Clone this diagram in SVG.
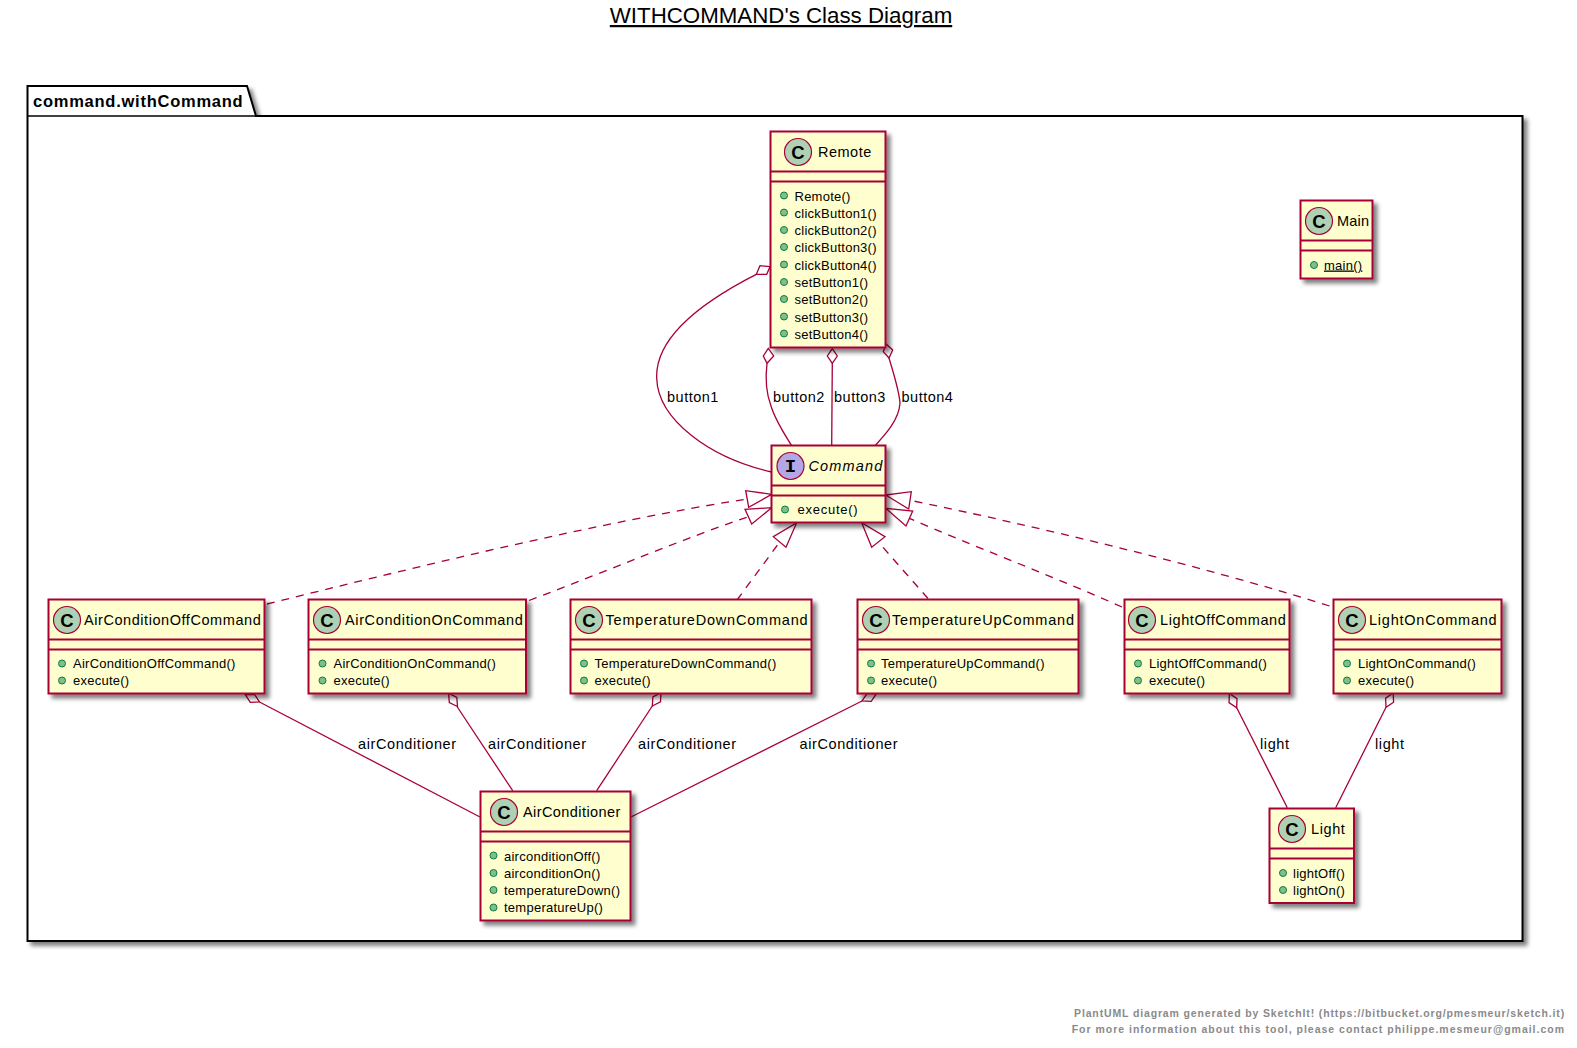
<svg xmlns="http://www.w3.org/2000/svg" width="1577" height="1048" viewBox="0 0 1577 1048">
<style>
text{font-family:"Liberation Sans",Arial,sans-serif;fill:#000}
.box{fill:#FEFECE;stroke:#A80036;stroke-width:2}
.div{stroke:#A80036;stroke-width:2;fill:none}
.sp{fill:#ADD1B2;stroke:#A80036;stroke-width:1.2}
.spi{fill:#B4A7E5;stroke:#A80036;stroke-width:1.2}
.g{font-size:18.500px;font-weight:bold}
.gi{font-size:19px;font-weight:bold;font-family:"Liberation Mono",monospace}
.n{font-size:14.500px;letter-spacing:.6px}
.m{font-size:13px;letter-spacing:.25px}
.dot{fill:#84BE84;stroke:#038048;stroke-width:1}
.e{fill:none;stroke:#A80036;stroke-width:1.3}
.d{stroke-dasharray:8,7}
.o{fill:#fff;stroke:#A80036;stroke-width:1.3}
.l{font-size:14.500px;letter-spacing:.6px}
.f{font-size:10.500px;font-weight:bold;fill:#8a8a8a}
</style>
<defs>
<filter id="s" x="-10%" y="-10%" width="125%" height="125%"><feGaussianBlur in="SourceAlpha" stdDeviation="2"/><feOffset dx="4" dy="4"/><feComponentTransfer><feFuncA type="linear" slope=".5"/></feComponentTransfer><feMerge><feMergeNode/><feMergeNode in="SourceGraphic"/></feMerge></filter>
</defs>
<text x="781" y="23" text-anchor="middle" font-size="22.300" text-decoration="underline">WITHCOMMAND's Class Diagram</text>
<g id="package">
<path d="M27.500 116V86H247L256 116H1522.500V941H27.500Z" fill="#fff" stroke="#000" stroke-width="2" filter="url(#s)"/>
<path d="M27.500 116H256" fill="none" stroke="#000" stroke-width="1.500"/>
<text x="33" y="107" font-size="16.500" font-weight="bold" letter-spacing=".75">command.withCommand</text>
</g>
<g id="connectors">
<path class="e" d="M756.300 274.300C700 303 655 338 656.700 378.300C658 420 710 458 771.500 472"/>
<path class="o" d="M770 266.700L760 265.700L756.300 274.300L766.700 274.300Z"/>
<path class="e" d="M767 363.300C765 380 766 392 770.700 405C775 420 785 435 791.700 445.700"/>
<path class="o" d="M768.300 348.300L763.300 356L767 363.300L773.700 356Z"/>
<path class="e" d="M832.300 363.300L831.700 445.700"/>
<path class="o" d="M832.300 348.700L827.300 356L832.300 363.300L837.300 356Z"/>
<path class="e" d="M889 358C894 375 899 390 900 403C899 420 885 435 875 445.700"/>
<path class="o" d="M886 344L883.300 351.700L889 358L892.700 350Z"/>
<path class="e d" d="M267 604C420 566 600 522 747 499"/>
<path class="o" d="M771.700 494.300L745.700 490.700L748.700 507.300Z"/>
<path class="e d" d="M529 600.500C610 570 680 540 748.300 516.700"/>
<path class="o" d="M771.700 507.700L745 509.300L751.700 524Z"/>
<path class="e d" d="M737 600L779.700 542"/>
<path class="o" d="M796.700 522.700L773.300 536.700L786 547.300Z"/>
<path class="e d" d="M928 598.500L878.300 542"/>
<path class="o" d="M861.700 522.700L871.700 547.300L885 536.700Z"/>
<path class="e d" d="M1122 607C1050 575 970 545 909.300 518.300"/>
<path class="o" d="M885.700 508.300L906 526L912.700 511Z"/>
<path class="e d" d="M1329.500 606C1200 565 1030 525 910 500.300"/>
<path class="o" d="M885.700 495L908.700 509L911.300 491.700Z"/>
<path class="e" d="M259.500 702L480 817"/>
<path class="o" d="M245.300 694.600L250.300 702.300L259.500 702L254.500 694.300Z"/>
<path class="e" d="M457 706.500L512.700 790.700"/>
<path class="o" d="M448.600 693.200L449.300 702.500L457.500 706.500L456.800 697.500Z"/>
<path class="e" d="M652.300 706L596.700 790.700"/>
<path class="o" d="M661 692.600L652.900 696.800L652.300 706L660.500 701.800Z"/>
<path class="e" d="M862 701L631 817"/>
<path class="o" d="M876.300 693.800L867.200 693.400L862 701L871.200 701.400Z"/>
<path class="e" d="M1236.700 707.700L1287.300 807.700"/>
<path class="o" d="M1229.400 693.400L1229 702.600L1236.700 707.700L1237 698.600Z"/>
<path class="e" d="M1386 707.300L1335.700 807.700"/>
<path class="o" d="M1393.200 693L1385.600 698.200L1386 707.300L1393.600 702.200Z"/>
<text class="l" style="letter-spacing:.5px" x="667" y="402">button1</text>
<text class="l" style="letter-spacing:.5px" x="773" y="402">button2</text>
<text class="l" style="letter-spacing:.5px" x="834" y="402">button3</text>
<text class="l" style="letter-spacing:.5px" x="901.500" y="402">button4</text>
<text class="l" x="358" y="749">airConditioner</text>
<text class="l" x="488" y="749">airConditioner</text>
<text class="l" x="638" y="749">airConditioner</text>
<text class="l" x="799.500" y="749">airConditioner</text>
<text class="l" x="1260" y="749">light</text>
<text class="l" x="1375" y="749">light</text>
</g>
<g id="Remote">
<rect class="box" x="770.500" y="131.500" width="115" height="216" filter="url(#s)"/>
<path class="div" d="M770.500 171.500H885.500M770.500 181.500H885.500"/>
<circle class="sp" cx="798" cy="152" r="13.500"/><text class="g" x="798" y="158.500" text-anchor="middle">C</text>
<text class="n" style="letter-spacing:.5px" x="818" y="157">Remote</text>
<circle class="dot" cx="784" cy="195.500" r="3.500"/><text class="m" x="794.500" y="200.500">Remote()</text>
<circle class="dot" cx="784" cy="212.500" r="3.500"/><text class="m" x="794.500" y="217.500">clickButton1()</text>
<circle class="dot" cx="784" cy="230" r="3.500"/><text class="m" x="794.500" y="235">clickButton2()</text>
<circle class="dot" cx="784" cy="247" r="3.500"/><text class="m" x="794.500" y="252">clickButton3()</text>
<circle class="dot" cx="784" cy="264.500" r="3.500"/><text class="m" x="794.500" y="269.500">clickButton4()</text>
<circle class="dot" cx="784" cy="282" r="3.500"/><text class="m" x="794.500" y="287">setButton1()</text>
<circle class="dot" cx="784" cy="299" r="3.500"/><text class="m" x="794.500" y="304">setButton2()</text>
<circle class="dot" cx="784" cy="316.500" r="3.500"/><text class="m" x="794.500" y="321.500">setButton3()</text>
<circle class="dot" cx="784" cy="333.500" r="3.500"/><text class="m" x="794.500" y="338.500">setButton4()</text>
</g>
<g id="Command">
<rect class="box" x="771.500" y="445.500" width="114" height="77" filter="url(#s)"/>
<path class="div" d="M771.500 485.500H885.500M771.500 495.500H885.500"/>
<circle class="spi" cx="790.500" cy="466" r="13.500"/><text class="gi" x="790.500" y="472" text-anchor="middle">I</text>
<text class="n" style="letter-spacing:1.150px" x="808.500" y="471" font-style="italic">Command</text>
<circle class="dot" cx="785" cy="509.500" r="3.500"/><text class="m" style="letter-spacing:.75px" x="797.500" y="514">execute()</text>
</g>
<g id="Main">
<rect class="box" x="1300.500" y="200.500" width="72" height="78" filter="url(#s)"/>
<path class="div" d="M1300.500 240.500H1372.500M1300.500 250.500H1372.500"/>
<circle class="sp" cx="1319" cy="221" r="13.500"/><text class="g" x="1319" y="227.500" text-anchor="middle">C</text>
<text class="n" style="letter-spacing:.2px" x="1337" y="226">Main</text>
<circle class="dot" cx="1314" cy="265" r="3.500"/><text class="m" x="1324" y="269.500" text-decoration="underline">main()</text>
</g>
<g id="AirConditionOffCommand">
<rect class="box" x="48.500" y="599.500" width="216" height="94" filter="url(#s)"/>
<path class="div" d="M48.500 639.500H264.500M48.500 649.500H264.500"/>
<circle class="sp" cx="67" cy="620" r="13.500"/><text class="g" x="67" y="626.500" text-anchor="middle">C</text>
<text class="n" style="letter-spacing:.56px" x="84" y="625">AirConditionOffCommand</text>
<circle class="dot" cx="62" cy="663.500" r="3.500"/><text class="m" x="73" y="668">AirConditionOffCommand()</text>
<circle class="dot" cx="62" cy="680.500" r="3.500"/><text class="m" x="73" y="685">execute()</text>
</g>
<g id="AirConditionOnCommand">
<rect class="box" x="308.500" y="599.500" width="217.500" height="94" filter="url(#s)"/>
<path class="div" d="M308.500 639.500H526M308.500 649.500H526"/>
<circle class="sp" cx="327" cy="620" r="13.500"/><text class="g" x="327" y="626.500" text-anchor="middle">C</text>
<text class="n" style="letter-spacing:.63px" x="345" y="625">AirConditionOnCommand</text>
<circle class="dot" cx="322.500" cy="663.500" r="3.500"/><text class="m" x="333.500" y="668">AirConditionOnCommand()</text>
<circle class="dot" cx="322.500" cy="680.500" r="3.500"/><text class="m" x="333.500" y="685">execute()</text>
</g>
<g id="TemperatureDownCommand">
<rect class="box" x="570.500" y="599.500" width="241" height="94" filter="url(#s)"/>
<path class="div" d="M570.500 639.500H811.500M570.500 649.500H811.500"/>
<circle class="sp" cx="589" cy="620" r="13.500"/><text class="g" x="589" y="626.500" text-anchor="middle">C</text>
<text class="n" style="letter-spacing:.8px" x="605.500" y="625">TemperatureDownCommand</text>
<circle class="dot" cx="584" cy="663.500" r="3.500"/><text class="m" style="letter-spacing:.3px" x="594.500" y="668">TemperatureDownCommand()</text>
<circle class="dot" cx="584" cy="680.500" r="3.500"/><text class="m" x="594.500" y="685">execute()</text>
</g>
<g id="TemperatureUpCommand">
<rect class="box" x="857.500" y="599.500" width="221" height="94" filter="url(#s)"/>
<path class="div" d="M857.500 639.500H1078.500M857.500 649.500H1078.500"/>
<circle class="sp" cx="876" cy="620" r="13.500"/><text class="g" x="876" y="626.500" text-anchor="middle">C</text>
<text class="n" style="letter-spacing:.8px" x="892" y="625">TemperatureUpCommand</text>
<circle class="dot" cx="871" cy="663.500" r="3.500"/><text class="m" x="881" y="668">TemperatureUpCommand()</text>
<circle class="dot" cx="871" cy="680.500" r="3.500"/><text class="m" x="881" y="685">execute()</text>
</g>
<g id="LightOffCommand">
<rect class="box" x="1124.500" y="599.500" width="165" height="94" filter="url(#s)"/>
<path class="div" d="M1124.500 639.500H1289.500M1124.500 649.500H1289.500"/>
<circle class="sp" cx="1142" cy="620" r="13.500"/><text class="g" x="1142" y="626.500" text-anchor="middle">C</text>
<text class="n" x="1160" y="625">LightOffCommand</text>
<circle class="dot" cx="1138" cy="663.500" r="3.500"/><text class="m" x="1149" y="668">LightOffCommand()</text>
<circle class="dot" cx="1138" cy="680.500" r="3.500"/><text class="m" x="1149" y="685">execute()</text>
</g>
<g id="LightOnCommand">
<rect class="box" x="1333.500" y="599.500" width="168" height="94" filter="url(#s)"/>
<path class="div" d="M1333.500 639.500H1501.500M1333.500 649.500H1501.500"/>
<circle class="sp" cx="1352" cy="620" r="13.500"/><text class="g" x="1352" y="626.500" text-anchor="middle">C</text>
<text class="n" style="letter-spacing:.77px" x="1369" y="625">LightOnCommand</text>
<circle class="dot" cx="1347" cy="663.500" r="3.500"/><text class="m" x="1358" y="668">LightOnCommand()</text>
<circle class="dot" cx="1347" cy="680.500" r="3.500"/><text class="m" x="1358" y="685">execute()</text>
</g>
<g id="AirConditioner">
<rect class="box" x="480.500" y="791.500" width="150" height="129" filter="url(#s)"/>
<path class="div" d="M480.500 831.500H630.500M480.500 841.500H630.500"/>
<circle class="sp" cx="504" cy="812" r="13.500"/><text class="g" x="504" y="818.500" text-anchor="middle">C</text>
<text class="n" style="letter-spacing:.42px" x="523" y="817">AirConditioner</text>
<circle class="dot" cx="493.500" cy="855.500" r="3.500"/><text class="m" x="504" y="860.500">airconditionOff()</text>
<circle class="dot" cx="493.500" cy="873" r="3.500"/><text class="m" x="504" y="877.500">airconditionOn()</text>
<circle class="dot" cx="493.500" cy="890" r="3.500"/><text class="m" x="504" y="895">temperatureDown()</text>
<circle class="dot" cx="493.500" cy="907.500" r="3.500"/><text class="m" x="504" y="912">temperatureUp()</text>
</g>
<g id="Light">
<rect class="box" x="1269.500" y="808.500" width="84.500" height="94.500" filter="url(#s)"/>
<path class="div" d="M1269.500 848.500H1354M1269.500 858.500H1354"/>
<circle class="sp" cx="1292" cy="829" r="13.500"/><text class="g" x="1292" y="835.500" text-anchor="middle">C</text>
<text class="n" x="1311" y="834">Light</text>
<circle class="dot" cx="1283" cy="873" r="3.500"/><text class="m" x="1293" y="877.500">lightOff()</text>
<circle class="dot" cx="1283" cy="890" r="3.500"/><text class="m" x="1293" y="895">lightOn()</text>
</g>
<g id="footer">
<text class="f" style="letter-spacing:.86px" x="1565" y="1017" text-anchor="end">PlantUML diagram generated by SketchIt! (https://bitbucket.org/pmesmeur/sketch.it)</text>
<text class="f" style="letter-spacing:.99px" x="1565" y="1033" text-anchor="end">For more information about this tool, please contact philippe.mesmeur@gmail.com</text>
</g>
</svg>
